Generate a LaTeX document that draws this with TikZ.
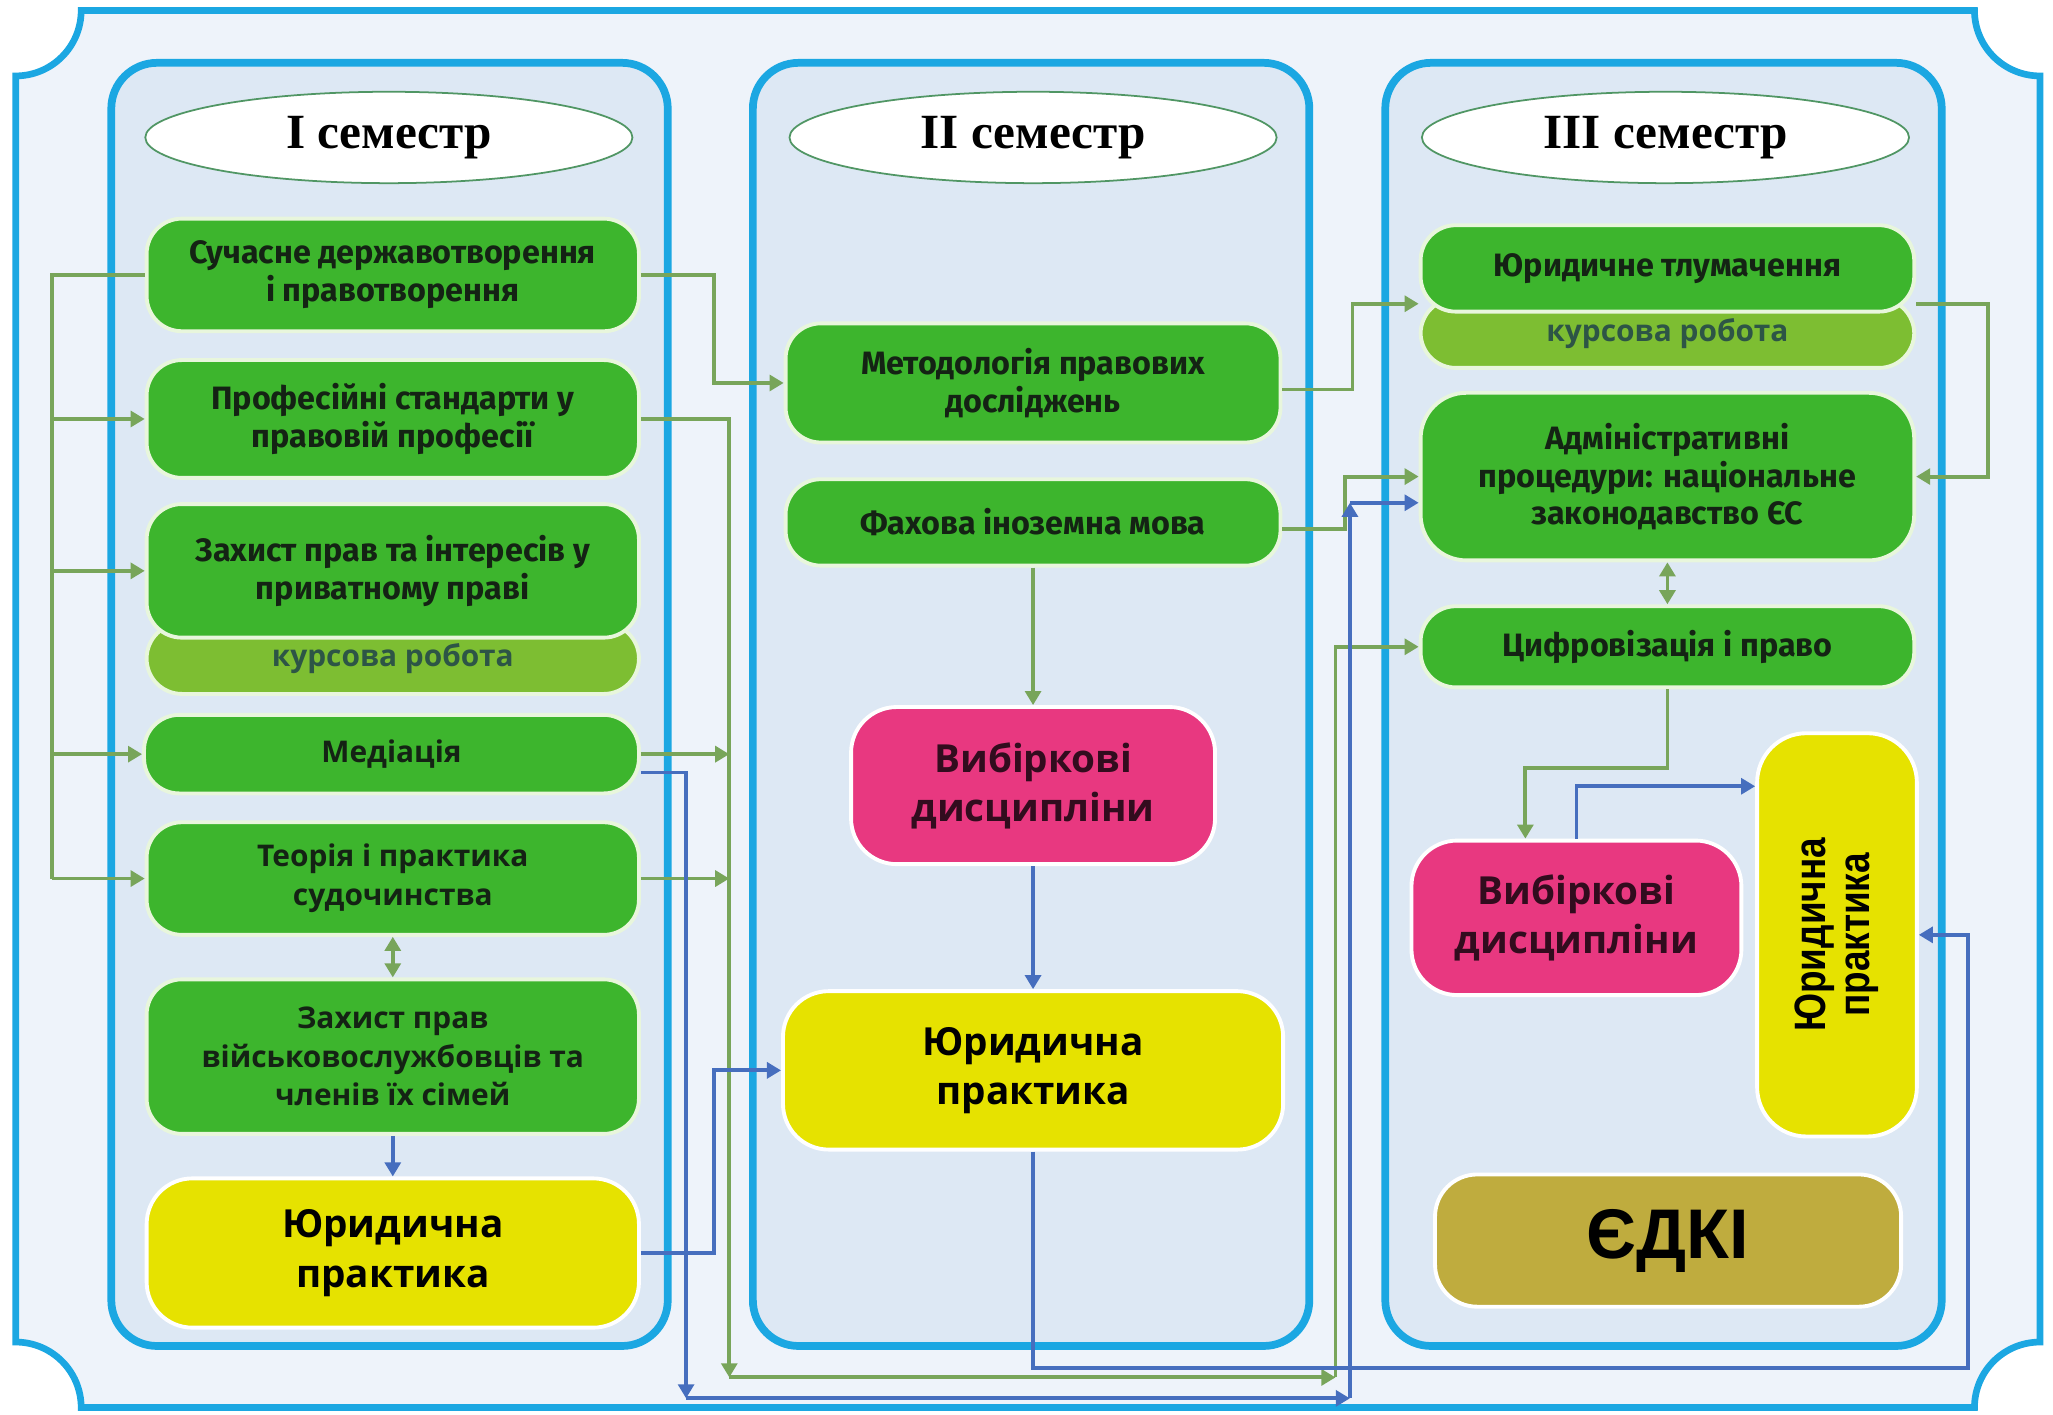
\documentclass[tikz,border=0pt]{standalone}
\usepackage{fontspec}
\setmainfont{Liberation Serif}
\newfontfamily\dinfont{Fira Sans}
\newfontfamily\widefont{Open Sans}
\newfontfamily\arlfont{Liberation Sans}
\usetikzlibrary{shapes.geometric,arrows.meta,calc}
\definecolor{gfill}{RGB}{61,181,45}
\definecolor{gborder}{RGB}{232,246,220}
\definecolor{kfill}{RGB}{125,190,50}
\definecolor{ktext}{RGB}{45,85,70}
\definecolor{pfill}{RGB}{232,56,128}
\definecolor{ptext}{RGB}{50,12,30}
\definecolor{yfill}{RGB}{230,226,0}
\definecolor{ofill}{RGB}{191,172,62}
\definecolor{cfill}{RGB}{221,232,244}
\definecolor{cblue}{RGB}{27,167,226}
\definecolor{ofr}{RGB}{238,243,250}
\definecolor{gcol}{RGB}{120,165,90}
\definecolor{bcol}{RGB}{70,110,190}
\definecolor{ellc}{RGB}{80,150,100}
\definecolor{btext}{RGB}{20,35,20}
\newcommand\fntD{\dinfont\bfseries\fontsize{9.2}{10.8}\selectfont}
\newcommand\fntW{\widefont\bfseries\fontsize{8.5}{11}\selectfont}
\newcommand\fntB{\widefont\bfseries\fontsize{11}{14}\selectfont}
\newcommand\fntT{\rmfamily\bfseries\fontsize{14}{16}\selectfont}
% box: name, x1, y1, x2, y2, style, text
\newcommand\Bx[7]{\node[#6,minimum width={(#4-#2)*0.3725pt},minimum height={(#5-#3)*0.3725pt}] (#1) at ({(#2+#4)/2},{(#3+#5)/2}) {#7};}
\begin{document}
\begin{tikzpicture}[x=0.013093cm,y=-0.013093cm,
  colbox/.style={draw=cblue,line width=2.2pt,fill=cfill,rounded corners=13pt,inner sep=0pt},
  semell/.style={ellipse,draw=ellc,line width=0.5pt,fill=white,inner sep=0pt,font=\fntT,minimum width=138.6pt,minimum height=26pt},
  gbox/.style={draw=gborder,line width=1.1pt,fill=gfill,rounded corners=10pt,inner sep=0pt,align=center,text=btext,font=\fntD},
  gwbox/.style={gbox,font=\fntW},
  kbox/.style={gbox,fill=kfill,text=ktext,font=\fntW},
  pbox/.style={gbox,fill=pfill,draw=white,text=ptext,font=\fntB,rounded corners=13pt},
  ybox/.style={gbox,fill=yfill,draw=white,text=black,font=\fntB,rounded corners=13pt},
  obox/.style={gbox,fill=ofill,draw=white,text=black,rounded corners=12pt,font=\arlfont\bfseries\fontsize{20}{22}\selectfont},
  gline/.style={draw=gcol,line width=1.1pt},
  garr/.style={gline,-{Triangle[length=4pt,width=4.5pt]}},
  gdbl/.style={gline,{Triangle[length=4pt,width=4.5pt]}-{Triangle[length=4pt,width=4.5pt]}},
  bline/.style={draw=bcol,line width=1.1pt},
  barr/.style={bline,-{Triangle[length=4pt,width=4.5pt]}}
]
\useasboundingbox (0,0) rectangle (1568,1080);
\fill[white] (0,0) rectangle (1568,1080);
% outer frame
\draw[cblue,line width=1.9pt,fill=ofr] (62,8) -- (1508,8) arc[start angle=180,end angle=90,radius=50]
  -- (1558,1025) arc[start angle=270,end angle=180,radius=50]
  -- (62,1075) arc[start angle=0,end angle=-90,radius=50]
  -- (12,58) arc[start angle=90,end angle=0,radius=50] -- cycle;
% columns
\Bx{col1}{85}{48}{510}{1028}{colbox}{}
\Bx{col2}{575}{48}{1000}{1028}{colbox}{}
\Bx{col3}{1058}{48}{1483}{1028}{colbox}{}
% titles
\node[semell] (E1) at (297,105) {I семестр};
\node[semell] (E2) at (789,105) {II семестр};
\node[semell] (E3) at (1272,105) {III семестр};
% boxes column 1
\Bx{B3k}{112}{476}{488}{530}{kbox}{курсова робота}
\Bx{B1}{112}{167}{488}{253}{gbox}{Сучасне державотворення\\і правотворення}
\Bx{B2}{112}{275}{488}{365}{gbox}{Професійні стандарти у\\правовій професії}
\Bx{B3}{112}{385}{488}{487}{gbox}{Захист прав та інтересів у\\приватному праві}
\Bx{B4}{110}{546}{488}{606}{gwbox}{Медіація}
\Bx{B5}{112}{628}{488}{714}{gwbox}{Теорія і практика\\судочинства}
\Bx{B6}{112}{748}{488}{866}{gwbox}{Захист прав\\військовослужбовців та\\членів їх сімей}
\Bx{B7}{112}{900}{488}{1014}{ybox}{Юридична\\практика}
% boxes column 2
\Bx{C1}{600}{247}{978}{338}{gbox}{Методологія правових\\досліджень}
\Bx{C2}{600}{366}{978}{432}{gbox}{Фахова іноземна мова}
\Bx{C3}{650}{540}{928}{660}{pbox}{Вибіркові\\дисципліни}
\Bx{C4}{598}{757}{980}{878}{ybox}{Юридична\\практика}
% boxes column 3
\Bx{D1k}{1085}{228}{1462}{281}{kbox}{курсова робота}
\Bx{D1}{1085}{172}{1462}{238}{gbox}{Юридичне тлумачення}
\Bx{D2}{1085}{300}{1462}{428}{gbox,rounded corners=13pt}{Адміністративні\\процедури: національне\\законодавство ЄС}
\Bx{D3}{1085}{463}{1462}{525}{gbox}{Цифровізація і право}
\Bx{D4}{1078}{642}{1330}{760}{pbox}{Вибіркові\\дисципліни}
\Bx{D5}{1342}{560}{1464}{868}{ybox,rounded corners=14pt}{}
\node[rotate=90,xscale=0.84,align=center,font=\arlfont\bfseries\fontsize{12.5}{12.5}\selectfont] (D5t) at (D5.center) {Юридична\\практика};
\Bx{D6}{1096}{897}{1452}{998}{obox}{ЄДКІ}
% helper coordinates
\coordinate (busx) at (40,0);
\coordinate (xa) at (545,0);
\coordinate (gtr) at (557,0);
\coordinate (bv) at (524,0);
\coordinate (gbot) at (0,1052);
\coordinate (bbot) at (0,1068);
\coordinate (bbot2) at (0,1045);
\coordinate (g3) at (1020,0);
\coordinate (b3) at (1031,0);
\coordinate (g2) at (1027,0);
\coordinate (g1) at (1033,0);
\coordinate (gr) at (1518,0);
\coordinate (br) at (1503,0);
\coordinate (B4r) at ($(B4.east)+(0,14)$);
\coordinate (C1r) at ($(C1.east)+(0,5)$);
\coordinate (C2r) at ($(C2.east)+(0,5)$);
\coordinate (D1l) at ($(D1.west)+(0,27)$);
\coordinate (D1r) at ($(D1.east)+(0,27)$);
\coordinate (D2b) at ($(D2.west)+(0,20)$);
\coordinate (D4in) at ($(D4.north)+(-39,0)$);
\coordinate (D5in) at ($(D5.north west)+(0,42)$);
% green connectors
\draw[gline] (B1.west) -- (busx |- B1.west) -- (busx |- B5.west);
\draw[garr] (busx |- B2.west) -- (B2.west);
\draw[garr] (busx |- B3.west) -- (B3.west);
\draw[garr] (busx |- B4.west) -- (B4.west);
\draw[garr] (busx |- B5.west) -- (B5.west);
\draw[garr] (B1.east) -- (xa |- B1.east) |- (C1.west);
\draw[garr] (B2.east) -| (gtr |- gbot);
\draw[garr] (B4.east) -- (gtr |- B4.east);
\draw[garr] (B5.east) -- (gtr |- B5.east);
\draw[garr] (gtr |- gbot) -- (g3 |- gbot);
\draw[garr] (g3 |- gbot) |- (D3.west);
\draw[garr] (C1r) -- (g1 |- C1r) |- (D1l);
\draw[garr] (C2r) -- (g2 |- C2r) |- (D2.west);
\draw[garr] (D1r) -- (gr |- D1r) |- (D2.east);
\draw[garr] (C2.south) -- (C3.north);
\draw[gdbl] (B5.south) -- (B6.north);
\draw[gdbl] (D2.south) -- (D3.north);
\draw[garr] (D3.south) -- ++(0,60) -| (D4in);
% blue connectors
\draw[barr] (B6.south) -- (B7.north);
\draw[barr] (C3.south) -- (C4.north);
\draw[barr] (B7.east) -- (xa |- B7.east) |- (C4.west);
\draw[barr] (B4r) -| (bv |- bbot);
\draw[barr] (bv |- bbot) -- (b3 |- bbot);
\draw[barr] (b3 |- bbot) -- (b3 |- D2b);
\draw[barr] (b3 |- D2b) -- (D2b);
\draw[barr] (C4.south) -- (C4.south |- bbot2) -- (br |- bbot2) |- (D5.east);
\draw[barr] (D4.north) |- (D5in);
\end{tikzpicture}
\end{document}
